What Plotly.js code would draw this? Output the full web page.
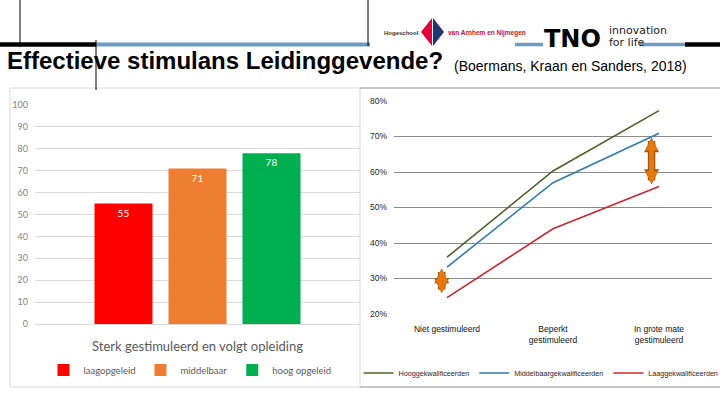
<!DOCTYPE html>
<html>
<head>
<meta charset="utf-8">
<script src="https://cdn.plot.ly/plotly-3.0.1.min.js"></script>
<style>
  html, body { margin: 0; padding: 0; background: #fff; }
  #chart { width: 720px; height: 405px; }
</style>
</head>
<body>
<div id="chart"></div>
<script>
// Left chart: strongly stimulated and following training, by education level
const barCategory = ['Sterk gestimuleerd en volgt opleiding'];
const barNames = ['laagopgeleid', 'middelbaar', 'hoog opgeleid'];
const barValues = [55, 71, 78];
const barColors = ['#FF0000', '#ED7D31', '#00B050'];

// Right chart: share by degree of stimulation
const lineCategories = ['Niet gestimuleerd', 'Beperkt<br>gestimuleerd', 'In grote mate<br>gestimuleerd'];
const hoogValues = [36, 60.3, 77.3];
const middelValues = [33.2, 57, 70.9];
const laagValues = [24.6, 44, 55.9];
const lineNames = ['Hooggekwalificeerden', 'Middelbaargekwalificeerden', 'Laaggekwalificeerden'];
const lineColors = ['#4F6228', '#2E7BB5', '#C8282E'];

// helpers: pixel -> paper fraction
const W = 720, H = 405;
const px = x => x / W;
const py = y => 1 - y / H;

const traces = [];
barNames.forEach((name, i) => {
    traces.push({
        type: 'bar',
        x: barCategory,
        y: [barValues[i]],
        name: name,
        marker: { color: barColors[i] },
        text: [String(barValues[i])],
        textposition: 'inside',
        insidetextanchor: 'end',
        textfont: { color: '#fff', size: 10, family: 'Lato, sans-serif' },
        xaxis: 'x', yaxis: 'y',
        legend: 'legend',
        hoverinfo: 'none'
    });
});

[hoogValues, middelValues, laagValues].forEach((vals, i) => {
    traces.push({
        type: 'scatter',
        mode: 'lines',
        x: lineCategories,
        y: vals,
        name: lineNames[i],
        line: { color: lineColors[i], width: 1.6 },
        xaxis: 'x2', yaxis: 'y2',
        legend: 'legend2',
        hoverinfo: 'none'
    });
});

const line = (x0, y0, x1, y1, color, width) => ({
    type: 'line', xref: 'paper', yref: 'paper',
    x0: px(x0), y0: py(y0), x1: px(x1), y1: py(y1),
    line: { color: color, width: width }, layer: 'above'
});

const shapes = [
    // panel frames
    { type: 'rect', xref: 'paper', yref: 'paper', x0: px(10), y0: py(387), x1: px(360), y1: py(88),
      line: { color: '#D9D9D9', width: 1 }, layer: 'below' },
    line(360, 88, 720, 88, '#8C8C8C', 1),
    line(360, 387, 720, 387, '#8C8C8C', 1),
    // header bars
    line(0, 44.5, 96, 44.5, '#000', 4.5),
    line(96, 44.5, 370, 44.5, '#6F9CC2', 4),
    line(515, 44.5, 543, 44.5, '#6F9CC2', 3.5),
    line(640, 44.5, 685, 44.5, '#6F9CC2', 3.5),
    line(685, 44.5, 720, 44.5, '#000', 4.5),
    // thin vertical slide lines
    line(20, 0, 20, 47, '#000', 1),
    line(96, 40, 96, 90, '#000', 1),
    line(368, 0, 368, 46, '#000', 1),
    // school logo diamond
    { type: 'path', xref: 'paper', yref: 'paper',
      path: `M${px(432)},${py(18)} L${px(421)},${py(32)} L${px(432)},${py(46)} Z`,
      fillcolor: '#E3003C', line: { width: 0 } },
    { type: 'path', xref: 'paper', yref: 'paper',
      path: `M${px(433)},${py(18)} L${px(444)},${py(32)} L${px(433)},${py(46)} Z`,
      fillcolor: '#21356E', line: { width: 0 } }
];

const txt = (text, x, y, size, opts) => Object.assign({
    text: text, xref: 'paper', yref: 'paper', x: px(x), y: py(y),
    xanchor: 'left', yanchor: 'middle', showarrow: false,
    font: { family: 'Liberation Sans, Arial, sans-serif', size: size, color: '#000' }
}, opts || {});

// double headed arrows: a brown one behind an orange one
const arrow = (xc, y0, y1, color, width, size) => ({
    xref: 'x2', yref: 'y2', axref: 'x2', ayref: 'y2',
    x: xc, y: y1, ax: xc, ay: y0, text: '', showarrow: true,
    arrowhead: 2, startarrowhead: 2, arrowside: 'end+start',
    arrowsize: size, startarrowsize: size, arrowwidth: width, arrowcolor: color,
    standoff: 0, startstandoff: 0
});

const annotations = [
    txt('<b>Effectieve stimulans Leidinggevende?</b>', 5, 61, 24),
    txt('(Boermans, Kraan en Sanders, 2018)', 452, 66, 14),
    txt('<b>Hogeschool</b>', 382, 33, 6, { font: { family: 'Liberation Sans, Arial, sans-serif', size: 6, color: '#333' } }),
    txt('<b>van Arnhem en Nijmegen</b>', 446, 33, 6.5, { font: { family: 'Liberation Sans, Arial, sans-serif', size: 6.5, color: '#C8102E' } }),
    txt('<b>TNO</b>', 542, 39, 24, { font: { family: 'DejaVu Sans, sans-serif', size: 24, color: '#000' } }),
    txt('innovation', 607, 30, 11.5, { font: { family: 'DejaVu Sans, sans-serif', size: 11, color: '#222' } }),
    txt('for life', 607, 42, 11.5, { font: { family: 'DejaVu Sans, sans-serif', size: 11, color: '#222' } }),
    arrow(-0.05, 25.4, 32.9, '#9A5A12', 7.5, 0.4),
    arrow(-0.05, 25.6, 32.7, '#E8780E', 5, 0.5),
    arrow(1.93, 56.1, 69.8, '#9A5A12', 7.5, 0.4),
    arrow(1.93, 56.3, 69.6, '#E8780E', 5, 0.5)
];

const layout = {
    width: W, height: H,
    margin: { l: 0, r: 0, t: 0, b: 0, autoexpand: false },
    paper_bgcolor: '#fff', plot_bgcolor: 'rgba(0,0,0,0)',
    barmode: 'group', bargap: 0.317, bargroupgap: 0.216,
    showlegend: true,
    xaxis: {
        domain: [px(35), px(360)], type: 'category',
        showgrid: false, showline: true, linecolor: '#D9D9D9', ticks: '',
        tickfont: { family: 'Lato, sans-serif', size: 13, color: '#595959' },
        ticklabelstandoff: 10, fixedrange: true, automargin: false
    },
    yaxis: {
        domain: [py(324), py(105)], range: [0, 100], dtick: 10,
        showgrid: true, gridcolor: '#D9D9D9', zeroline: false, ticks: '',
        tickfont: { family: 'Lato, sans-serif', size: 9, color: '#7F7F7F' },
        ticklabelstandoff: 6, fixedrange: true, automargin: false
    },
    xaxis2: {
        domain: [px(394), px(712)], type: 'category', range: [-0.5, 2.5],
        anchor: 'y2', showgrid: false, showline: false, ticks: '',
        tickfont: { family: 'Liberation Sans, Arial, sans-serif', size: 8.5, color: '#111' },
        ticklabelstandoff: 8, fixedrange: true, automargin: false
    },
    yaxis2: {
        domain: [py(314), py(101)], range: [20, 80], dtick: 10, ticksuffix: '%',
        anchor: 'x2', showgrid: true, gridcolor: '#8C8C8C', gridwidth: 1, zeroline: false, ticks: '',
        tickfont: { family: 'Liberation Sans, Arial, sans-serif', size: 8.5, color: '#262626' },
        ticklabelstandoff: 6, fixedrange: true, automargin: false
    },
    legend: {
        orientation: 'h', x: px(190), y: py(370), xanchor: 'center', yanchor: 'middle',
        font: { family: 'Lato, sans-serif', size: 9.5, color: '#595959' },
        itemclick: false, itemdoubleclick: false
    },
    legend2: {
        orientation: 'h', x: px(541), y: py(373), xanchor: 'center', yanchor: 'middle',
        font: { family: 'Liberation Sans, Arial, sans-serif', size: 7.2, color: '#262626' },
        bgcolor: 'rgba(0,0,0,0)',
        itemclick: false, itemdoubleclick: false
    },
    shapes: shapes,
    annotations: annotations
};

Plotly.newPlot('chart', traces, layout, { displayModeBar: false, staticPlot: true });
</script>
</body>
</html>
